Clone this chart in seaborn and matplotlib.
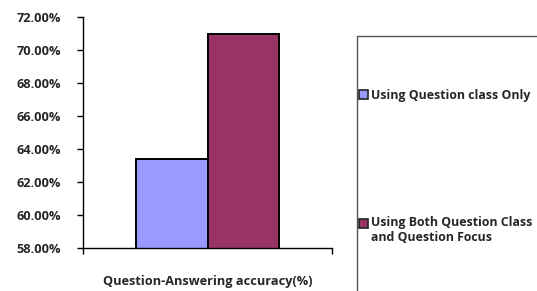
import matplotlib
matplotlib.use('Agg')
import matplotlib.pyplot as plt
import pandas as pd
import seaborn as sns
from matplotlib.legend_handler import HandlerPatch
from matplotlib.patches import Rectangle
from matplotlib.ticker import FixedLocator, PercentFormatter

categories = ['Question-Answering accuracy(%)']
series = ['Using Question class Only',
          'Using Both Question Class\nand Question Focus']
accuracy = [0.634, 0.710]
bar_colors = ['#9999FF', '#993366']

sns.set_style('white')
plt.rcParams['font.family'] = ['Open Sans', 'DejaVu Sans']
plt.rcParams['font.weight'] = 'bold'
FS = 9.2

df = pd.DataFrame({'category': categories * len(series),
                   'series': series,
                   'accuracy': accuracy})

fig = plt.figure(figsize=(5.37, 2.91), dpi=100)
ax = fig.add_axes([83 / 537, 1 - 248 / 291, 249 / 537, 231 / 291])

sns.barplot(x='category', y='accuracy', hue='series', data=df,
            palette=bar_colors, width=0.575, edgecolor='black',
            linewidth=1.4, saturation=1, ax=ax)

ax.set_ylim(0.58, 0.72)
ax.set_xlim(-0.5, 0.5)
ax.yaxis.set_major_formatter(PercentFormatter(xmax=1, decimals=2))
ax.set_xlabel('')
ax.set_ylabel('')
ax.tick_params(axis='y', which='major', left=True, length=4, width=1,
               pad=12, labelsize=FS, color='black')
ax.tick_params(axis='x', which='major', bottom=False, pad=16, labelsize=FS)
# category boundary ticks at the ends of the x axis
ax.xaxis.set_minor_locator(FixedLocator([-0.5, 0.5]))
ax.tick_params(axis='x', which='minor', bottom=True, length=4, width=1,
               color='black')
for lbl in ax.get_xticklabels() + ax.get_yticklabels():
    lbl.set_fontweight('bold')
sns.despine(ax=ax)
for side in ['left', 'bottom']:
    ax.spines[side].set_color('black')
    ax.spines[side].set_linewidth(1)

# legend box runs off the figure on the right and at the bottom
fig.add_artist(Rectangle((357 / 537, -0.1), 0.5, 1.1 - 36 / 291,
                         transform=fig.transFigure, facecolor='none',
                         edgecolor='#555555', linewidth=1))


def square_top(legend, orig_handle, xdescent, ydescent, width, height,
               fontsize):
    # put the swatch next to the first line of a two-line label
    return Rectangle((-xdescent, -ydescent + 0.55 * fontsize), width, height)


handles, labels = ax.get_legend_handles_labels()
for h in handles:
    h.set_edgecolor('#222222')
    h.set_linewidth(1.2)
ax.legend(handles, labels, loc='upper left',
          bbox_to_anchor=(359 / 537, 1 - 89 / 291),
          bbox_transform=fig.transFigure, frameon=False,
          prop={'size': 8.9, 'weight': 'bold'},
          handlelength=0.72, handleheight=0.72, handletextpad=0.25,
          labelspacing=9.2, borderpad=0, borderaxespad=0,
          handler_map={handles[1]: HandlerPatch(patch_func=square_top)})

fig.savefig('out.png', dpi=100)
